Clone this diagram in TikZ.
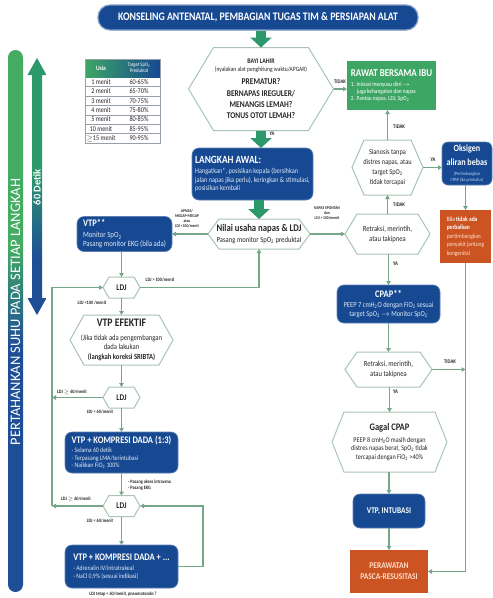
\documentclass[tikz,border=0pt]{standalone}
\usepackage{fontspec}
\setmainfont{Carlito}[FakeStretch=0.85]
\newfontfamily\rotfont{Carlito}
\usetikzlibrary{arrows.meta}
\definecolor{bblue}{RGB}{22,73,146}
\definecolor{bgreen}{RGB}{62,166,100}
\definecolor{agreen}{RGB}{45,152,108}
\definecolor{borange}{RGB}{204,84,34}
\definecolor{lgreen}{RGB}{118,166,136}
\definecolor{hexc}{RGB}{168,196,180}
\definecolor{txt}{RGB}{38,38,38}
\definecolor{barblue}{RGB}{30,78,150}
\definecolor{bargreen}{RGB}{68,172,98}
\definecolor{gridc}{RGB}{150,160,170}
\definecolor{peach}{RGB}{255,222,200}
\definecolor{paleblue}{RGB}{190,210,240}
\definecolor{boxtxt}{RGB}{225,233,245}
\newcommand\fs[2]{\fontsize{#1}{#2}\selectfont}
\newcommand\sbs[1]{\textsubscript{#1}}
\newcommand\hexo[2]{\draw[hexline] (#1.west) -- ([xshift=#2pt]#1.north west) -- ([xshift=-#2pt]#1.north east) -- (#1.east) -- ([xshift=-#2pt]#1.south east) -- ([xshift=#2pt]#1.south west) -- cycle;}
\begin{document}
\begin{tikzpicture}[x=1pt,y=-1pt,
  hexn/.style={rectangle, inner sep=0pt, outer sep=0pt, align=center, text=txt},
  hexline/.style={draw=hexc, line width=1pt, line join=miter},
  bbox/.style={rectangle, rounded corners=7pt, fill=bblue, draw=bblue!70!white, line width=0.6pt, text=white, inner sep=0pt, outer sep=0pt, align=center},
  obox/.style={rectangle, fill=borange, inner sep=0pt, outer sep=0pt, align=center},
  conn/.style={draw=lgreen, line width=1.2pt, -{Triangle[length=4pt,width=4.5pt]}},
  bigarr/.style={draw=agreen, line width=10pt, -{Triangle[length=10pt,width=21pt]}},
  lab/.style={inner sep=0pt, text=txt, font=\fs{5.5}{6.5}\bfseries},
  tiny/.style={inner sep=0pt, text=txt, align=center, font=\fs{4.3}{5}\bfseries},
  tcell/.style={inner sep=0pt, text=txt, font=\fs{7.3}{8}}]
\fill[white] (0,0) rectangle (493,598);
\useasboundingbox (0,0) rectangle (493,598);

% left bar
\begin{scope}
\clip[rounded corners=7.5pt] (8,50) rectangle (23,592);
\fill[bargreen] (7,49) rectangle (24,245);
\shade[top color=bargreen, bottom color=barblue] (7,245) rectangle (24,345);
\fill[barblue] (7,345) rectangle (24,593);
\end{scope}
\node[rotate=90, text=white, inner sep=0pt, font=\rotfont\fs{14.5}{16}] (bartext) at (15.5,312) {PERTAHANKAN SUHU PADA SETIAP LANGKAH};

% 60 detik arrow
\begin{scope}
\clip (37,58) -- (46.5,75) -- (42,75) -- (42,298) -- (46.5,298) -- (37,315) -- (27.5,298) -- (32,298) -- (32,75) -- (27.5,75) -- cycle;
\fill[agreen] (27,57) rectangle (47,170);
\shade[top color=agreen, bottom color=barblue] (27,170) rectangle (47,260);
\fill[barblue] (27,260) rectangle (47,316);
\end{scope}
\node[rotate=90, text=white, inner sep=0pt, font=\rotfont\bfseries\fs{10.5}{11}] (detik) at (37,187) {60 Detik};

% banner
\node[rectangle, rounded corners=12pt, fill=bblue, draw=bblue!55!white, line width=1.2pt, minimum width=320pt, minimum height=25pt, text=white, inner sep=0pt, font=\bfseries\fs{11.5}{12}] (banner) at (258,17.5) {KONSELING ANTENATAL, PEMBAGIAN TUGAS TIM \& PERSIAPAN ALAT};

% table
\shade[left color=bgreen, right color=bblue] (85,59) rectangle (160,77);
\draw[gridc, line width=0.5pt] (85,59) rectangle (160,143);
\foreach \i in {1,...,6} \draw[gridc, line width=0.4pt] (85,{77+\i*9.43}) -- (160,{77+\i*9.43});
\node[inner sep=0pt, text=white, font=\fs{6.5}{7}\bfseries] (thA) at (101,68) {Usia};
\node[inner sep=0pt, text=white, align=center, font=\fs{5.5}{6}] (thB) at (139,68) {Target SpO\sbs{2}\\Preduktal};
\foreach \a/\b [count=\i] in {1 menit/60-65\%, 2 menit/65-70\%, 3 menit/70-75\%, 4 menit/75-80\%, 5 menit/80-85\%, 10 menit/85-95\%, $\geq$15 menit/90-95\%}{
  \node[tcell] (ra\i) at (101,{77+(\i-0.5)*9.43}) {\a};
  \node[tcell] (rb\i) at (139,{77+(\i-0.5)*9.43}) {\b};
}

% BAYI LAHIR
\node[hexn, minimum width=145pt, minimum height=83pt, font=\fs{8.8}{11.3}\bfseries] (bayi) at (261,89)
 {{\fs{7}{8}BAYI LAHIR}\\[-3.3pt] {\fs{6.5}{8}\mdseries (nyalakan alat penghitung waktu/APGAR)}\\[1.7pt]
  PREMATUR?\\ BERNAPAS IREGULER/\\ MENANGIS LEMAH?\\ TONUS OTOT LEMAH?};
\hexo{bayi}{25}

% RAWAT BERSAMA IBU
\node[rectangle, fill=bgreen, minimum width=89pt, minimum height=49pt, text=white, inner sep=0pt, outer sep=0pt, align=left, font=\fs{6.3}{7.2}] (rawat) at (391.5,85.5)
 {{\fs{10.5}{11}\bfseries RAWAT BERSAMA IBU}\\[3pt] 1. Inisiasi menyusu dini $\rightarrow$\\ \hspace*{6pt}juga kehangatan dan napas\\ 2. Pantau napas, LDJ, SpO\sbs{2}};

% LANGKAH AWAL
\node[bbox, minimum width=121pt, minimum height=52pt, align=left, text=boxtxt, font=\fs{7.4}{8.5}] (langkah) at (252.5,174)
 {{\fs{11}{11}\bfseries\color{white}LANGKAH AWAL:}\\[2pt] Hangatkan*, posisikan kepala (bersihkan\\ jalan napas jika perlu), keringkan \& stimulasi,\\ posisikan kembali};

% Nilai
\node[hexn, minimum width=102pt, minimum height=30pt, font=\fs{7.8}{10.5}] (nilai) at (259,234)
 {{\fs{10.2}{10.2}\bfseries Nilai usaha napas \& LDJ}\\ Pasang monitor SpO\sbs{2} preduktal};
\hexo{nilai}{11}

% VTP**
\node[bbox, minimum width=95pt, minimum height=35pt, align=left, text=boxtxt, font=\fs{8}{9}] (vtp) at (124.5,234)
 {\hfil{\fs{10}{10}\bfseries\color{white}VTP**}\\[2pt] Monitor SpO\sbs{2}\\ Pasang monitor EKG (bila ada)};

% Sianosis
\node[hexn, minimum width=71pt, minimum height=55pt, font=\fs{7.5}{10}] (sian) at (387.5,167.5)
 {Sianosis tanpa\\ distres napas, atau\\ target SpO\sbs{2}\\ tidak tercapai};
\hexo{sian}{12}

% Oksigen
\node[bbox, rounded corners=6pt, minimum width=50pt, minimum height=43pt, text=paleblue, font=\fs{4.8}{5.6}] (oks) at (467,163.5)
 {{\fs{9.5}{10}\bfseries\color{white}Oksigen}\\[4.4pt] {\fs{9.5}{10}\bfseries\color{white}aliran bebas}\\[4.4pt] (Pertimbangkan\\[0.4pt] CPAP jika prematur)};

% orange note
\node[obox, minimum width=51pt, minimum height=53pt, align=left, text=white, font=\fs{6.5}{8.5}] (orng) at (465.5,236.5)
 {Bila \textbf{tidak ada}\\ \textbf{perbaikan}\\ {\color{peach}pertimbangkan}\\ {\color{peach}penyakit jantung}\\ {\color{peach}kongenital}};

% Retraksi 1
\node[hexn, minimum width=85pt, minimum height=40pt, font=\fs{7.8}{10}] (ret1) at (387.5,234)
 {Retraksi, merintih,\\ atau takipnea};
\hexo{ret1}{12}

% CPAP
\node[bbox, minimum width=103pt, minimum height=38pt, text=boxtxt, font=\fs{7.6}{8.5}] (cpap) at (388.5,304)
 {{\fs{10}{10}\bfseries\color{white}CPAP**}\\[2pt] PEEP 7 cmH\sbs{2}O dengan FiO\sbs{2} sesuai\\ target SpO\sbs{2} $\rightarrow$ Monitor SpO\sbs{2}};

% Retraksi 2
\node[hexn, minimum width=87pt, minimum height=35pt, font=\fs{7.8}{10}] (ret2) at (388.5,369.5)
 {Retraksi, merintih,\\ atau takipnea};
\hexo{ret2}{12}

% Gagal CPAP
\node[hexn, minimum width=115pt, minimum height=60pt, font=\fs{7.2}{8.5}] (gagal) at (389.5,442)
 {{\fs{10}{10}\bfseries Gagal CPAP}\\[3pt] PEEP 8 cmH\sbs{2}O masih dengan\\ distres napas berat, SpO\sbs{2} tidak\\ tercapai dengan FiO\sbs{2} >40\%};
\hexo{gagal}{12}

% VTP, INTUBASI
\node[bbox, minimum width=72pt, minimum height=34pt, font=\fs{8.7}{10}\bfseries] (vtpi) at (389,511) {VTP, INTUBASI};

% PERAWATAN
\node[obox, minimum width=78pt, minimum height=43pt, text=peach, font=\fs{8.8}{11}\bfseries] (peraw) at (389,571.5) {PERAWATAN\\ PASCA-RESUSITASI};

% LDJ 1
\node[hexn, minimum width=37pt, minimum height=21pt, font=\fs{8.7}{10}\bfseries] (ldj1) at (121.5,287.5) {LDJ};
\hexo{ldj1}{6}

% VTP EFEKTIF
\node[hexn, minimum width=103pt, minimum height=50pt, font=\fs{7.8}{9.5}] (vtpef) at (121.5,340)
 {{\fs{11.5}{11.5}\bfseries VTP EFEKTIF}\\[4pt] (Jika tidak ada pengembangan\\ dada lakukan\\ {\bfseries (langkah koreksi SRIBTA)}};
\hexo{vtpef}{14}

% LDJ 2
\node[hexn, minimum width=37pt, minimum height=21pt, font=\fs{8.7}{10}\bfseries] (ldj2) at (121.5,397.5) {LDJ};
\hexo{ldj2}{6}

% VTP + KOMPRESI (1:3)
\node[bbox, minimum width=113pt, minimum height=41pt, align=left, text=boxtxt, font=\fs{6.8}{7.6}] (vtpk1) at (121.5,452.5)
 {{\fs{10}{10}\bfseries\color{white}VTP + KOMPRESI DADA (1:3)}\\[1pt] - Selama 60 detik\\ - Terpasang LMA/terintubasi\\ - Naikkan FiO\sbs{2} 100\%};

% LDJ 3
\node[hexn, minimum width=37pt, minimum height=21pt, font=\fs{8.7}{10}\bfseries] (ldj3) at (121.5,506) {LDJ};
\hexo{ldj3}{6}

% VTP + KOMPRESI + ...
\node[bbox, minimum width=113pt, minimum height=43pt, align=left, text=boxtxt, font=\fs{6.8}{8.5}] (vtpk2) at (121.5,566.5)
 {{\fs{10}{10}\bfseries\color{white}VTP + KOMPRESI DADA + ...}\\[1.5pt] - Adrenalin IV/intratrakeal\\ - NaCl 0,9\% (sesuai indikasi)};

% big arrows
\draw[bigarr] (banner.south -| bayi.north) -- (bayi.north);
\draw[bigarr] (bayi.south) -- (bayi.south |- langkah.north);
\draw[bigarr] (langkah.south -| nilai.north) -- (nilai.north);

% connectors right side
\draw[conn] (bayi.east) -- (bayi.east -| rawat.west);
\draw[conn] (sian.north) -- (sian.north |- rawat.south);
\draw[conn] (sian.east) -- (sian.east -| oks.west);
\draw[conn] (oks.south -| orng.north) -- (orng.north);
\draw[conn] (ret1.north) -- (sian.south);
\draw[conn] (nilai.east) -- (ret1.west);
\draw[conn] (ret1.south -| cpap.north) -- (cpap.north);
\draw[conn] (cpap.south) -- (ret2.north);
\draw[conn] (ret2.east) -- (ret2.east -| orng.south);
\draw[conn] (ret2.south -| gagal.north) -- (gagal.north);
\draw[conn] (gagal.south -| vtpi.north) -- (vtpi.north);
\draw[conn] (vtpi.south) -- (peraw.north);
\draw[conn] (orng.south) |- (peraw.east);

% connectors left side
\draw[conn] (nilai.west) -- (vtp.east);
\draw[conn] (vtp.south -| ldj1.north) -- (ldj1.north);
\draw[conn] (ldj1.east) -| (nilai.south);
\draw[conn] (ldj1.south) -- (vtpef.north);
\draw[conn] (vtpef.south) -- (ldj2.north);
\draw[conn] (ldj2.south) -- (vtpk1.north);
\draw[conn] (vtpk1.south) -- (ldj3.north);
\draw[conn] (ldj3.south) -- (vtpk2.north);
\coordinate (lp1) at (52,287.5);
\coordinate (lp3) at (52,506);
\coordinate (rl) at (203,506);
\draw[conn] (lp3) -- (lp1) -- (ldj1.west);
\draw[conn] (ldj2.west) -- (ldj2.west -| lp1);
\draw[conn] (ldj3.west) -- (lp3);
\draw[conn] (vtpk2.east) -| (rl) -- (ldj3.east);

% labels
\node[lab] (ya1) at (272,134) {YA};
\node[lab] (td1) at (340,82) {TIDAK};
\node[lab, anchor=west] (td2) at (393,127) {TIDAK};
\node[lab] (ya2) at (433,160) {YA};
\node[lab, anchor=west] (td3) at (393,205) {TIDAK};
\node[lab, anchor=west] (ya3) at (393,264) {YA};
\node[lab] (td4) at (450,362) {TIDAK};
\node[lab, anchor=west] (ya4) at (393,392) {YA};
\node[tiny] (lsp) at (327,213) {NAPAS SPONTAN\\ dan\\ LDJ > 100/menit};
\node[tiny] (lap) at (187,219) {APNEA/\\ MEGAP-MEGAP\\ atau\\ LDJ <100/menit};
\node[lab, font=\fs{5}{6}\bfseries] (lg1) at (160,280) {LDJ > 100/menit};
\node[lab, font=\fs{5}{6}\bfseries] (lg2) at (92,303) {LDJ <100 /menit};
\node[lab, font=\fs{5}{6}\bfseries] (lg3) at (72,392) {LDJ $\geq$ 60/menit};
\node[lab, font=\fs{5}{6}\bfseries] (lg4) at (100,412) {LDJ < 60/menit};
\node[lab, font=\fs{5}{6}\bfseries, anchor=west, align=left] (note) at (128,485) {- Pasang akses intravena\\ - Pasang EKG};
\node[lab, font=\fs{5}{6}\bfseries] (lg5) at (76,499) {LDJ $\geq$ 60/menit};
\node[lab, font=\fs{5}{6}\bfseries] (lg6) at (100,521) {LDJ < 60/menit};
\node[lab, font=\fs{5}{6}\bfseries] (lgb) at (123,594) {LDJ tetap < 60/menit, pneumotoraks ?};
\end{tikzpicture}
\end{document}
